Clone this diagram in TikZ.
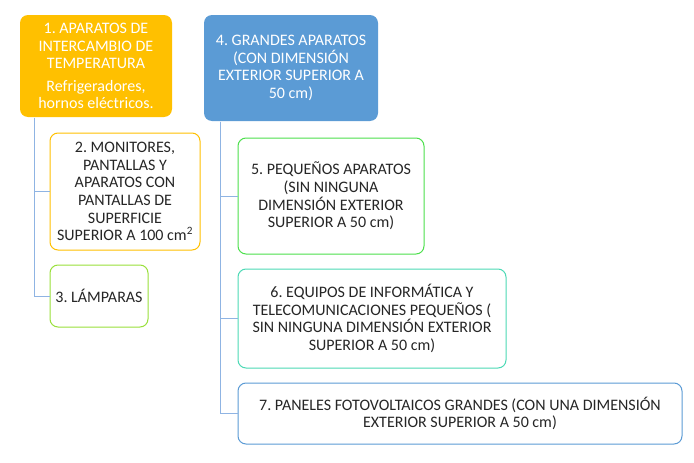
\documentclass[tikz,border=0pt]{standalone}
\usepackage{fontspec}
\setmainfont{Carlito}
\frenchspacing
\definecolor{naranja}{HTML}{FFC000}
\definecolor{azul}{HTML}{5B9BD5}
\definecolor{verde}{HTML}{4CE04C}
\definecolor{lima}{HTML}{99E03A}
\definecolor{turquesa}{HTML}{4CD9B5}
\definecolor{linea}{HTML}{8FB4E3}
\begin{document}
\begin{tikzpicture}[x=1pt,y=-1pt,
    caja/.style={rectangle,rounded corners=8pt,align=center,inner sep=0pt,line width=1pt,
      font=\fontsize{16}{17.6}\selectfont},
    llena/.style={caja,fill=#1,text=white},
    borde/.style={caja,draw=#1,fill=white,text=black!85},
    link/.style={draw=linea,line width=1pt}]
    \useasboundingbox (0,0) rectangle (694,463);
    % grupo 1
    \node[llena=naranja,minimum width=152,minimum height=102] (g1) at (96,66)
        {1. APARATOS DE\\INTERCAMBIO DE\\TEMPERATURA\\[5pt]Refrigeradores,\\hornos eléctricos.};
    \node[borde=naranja,minimum width=150,minimum height=117] (g2) at (125,191.5)
        {2. MONITORES,\\PANTALLAS Y\\APARATOS CON\\PANTALLAS DE\\SUPERFICIE\\SUPERIOR A 100 cm\textsuperscript{2}};
    \node[borde=lima,minimum width=98,minimum height=62] (g3) at (99,296) {3. LÁMPARAS};
    % grupo 4
    \node[llena=azul,minimum width=174,minimum height=106] (g4) at (291,68)
        {4. GRANDES APARATOS\\(CON DIMENSIÓN\\EXTERIOR SUPERIOR A\\50 cm)};
    \node[borde=verde,minimum width=186,minimum height=116] (g5) at (331,196)
        {5. PEQUEÑOS APARATOS\\(SIN NINGUNA\\DIMENSIÓN EXTERIOR\\SUPERIOR A 50 cm)};
    \node[borde=turquesa,minimum width=268,minimum height=99] (g6) at (372,318.5)
        {6. EQUIPOS DE INFORMÁTICA Y\\TELECOMUNICACIONES PEQUEÑOS (\\SIN NINGUNA DIMENSIÓN EXTERIOR\\SUPERIOR A 50 cm)};
    \node[borde=azul,minimum width=444,minimum height=61] (g7) at (460,413.5)
        {7. PANELES FOTOVOLTAICOS GRANDES (CON UNA DIMENSIÓN\\EXTERIOR SUPERIOR A 50 cm)};
    % conectores
    \draw[link] ([xshift=15]g1.south west) |- (g2.west);
    \draw[link] ([xshift=15]g1.south west) |- (g3.west);
    \draw[link] ([xshift=17]g4.south west) |- (g5.west);
    \draw[link] ([xshift=17]g4.south west) |- (g6.west);
    \draw[link] ([xshift=17]g4.south west) |- (g7.west);
\end{tikzpicture}
\end{document}
